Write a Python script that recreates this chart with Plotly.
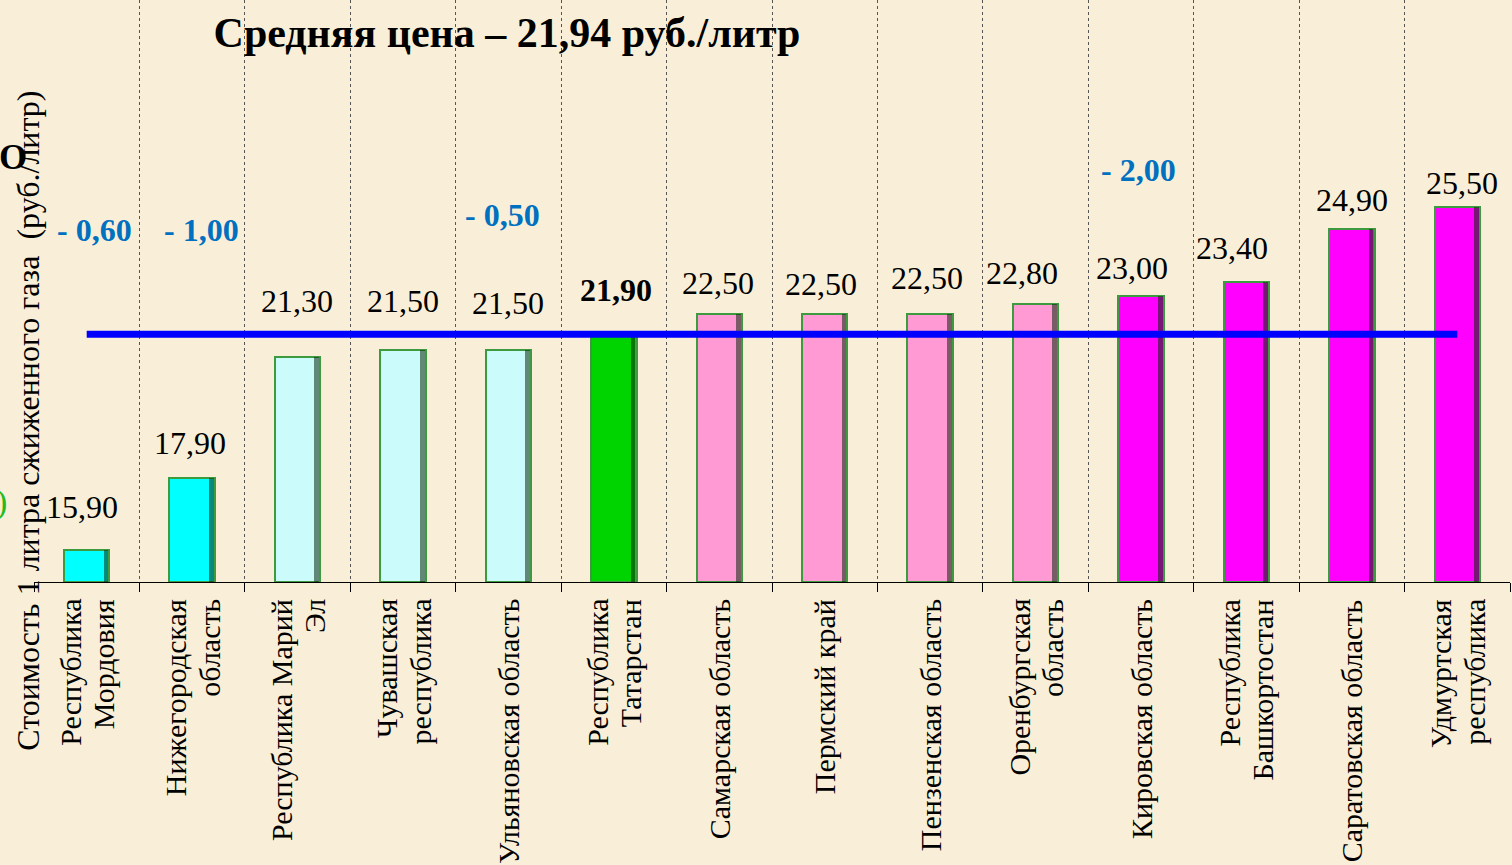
import plotly.graph_objects as go

# ---------------- data ----------------
regions = [
    "Республика<br>Мордовия",
    "Нижегородская<br>область",
    "Республика Марий<br>Эл",
    "Чувашская<br>республика",
    "Ульяновская область",
    "Республика<br>Татарстан",
    "Самарская область",
    "Пермский край",
    "Пензенская область",
    "Оренбургская<br>область",
    "Кировская область",
    "Республика<br>Башкортостан",
    "Саратовская область",
    "Удмуртская<br>республика",
]
prices = [15.90, 17.90, 21.30, 21.50, 21.50, 21.90, 22.50, 22.50, 22.50, 22.80, 23.00, 23.40, 24.90, 25.50]
price_labels = ["15,90", "17,90", "21,30", "21,50", "21,50", "21,90", "22,50", "22,50", "22,50",
                "22,80", "23,00", "23,40", "24,90", "25,50"]
average_price = 21.94
delta_regions = [0, 1, 4, 10]
delta_labels = ["- 0,60", "- 1,00", "- 0,50", "- 2,00"]

# ---------------- styles ----------------
bar_colors = ["#00FFFF", "#00FFFF", "#CCFBFB", "#CCFBFB", "#CCFBFB", "#00D400",
              "#FF9AD5", "#FF9AD5", "#FF9AD5", "#FF9AD5", "#FF00FF", "#FF00FF", "#FF00FF", "#FF00FF"]
label_dx = [-5, -2, -1, 0, 0, 2, -1, -4, -3, -14, -9, -14, 0, 5]
label_dy = [43, 35, 56, 49, 47, 46, 31, 30, 36, 31, 28, 34, 29, 24]
delta_dx = [8, 9, -6, -3]
delta_py = [0.605, 0.605, 0.631, 0.708]   # paper y of the blue labels
LINE_GAP = 33                               # px between lines of category labels

Y_MIN, Y_MAX = 15.0, 31.3
BAR_W = 0.43
SERIF = "Liberation Serif, Times New Roman, serif"

x_idx = list(range(len(regions)))
heights = [p - Y_MIN for p in prices]

fig = go.Figure()

# bars
fig.add_trace(go.Bar(
    x=x_idx, y=heights, base=Y_MIN, width=BAR_W,
    marker=dict(color=bar_colors, line=dict(color="#3E9A3E", width=2)),
    hoverinfo="skip", showlegend=False,
))
# dark shading strip on right side of each bar (bevel imitation)
fig.add_trace(go.Bar(
    x=x_idx, y=heights, base=Y_MIN, width=0.045, offset=BAR_W / 2 - 0.055,
    marker=dict(color="rgba(10,40,10,0.55)", line=dict(width=0)),
    hoverinfo="skip", showlegend=False,
))

# average line
fig.add_trace(go.Scatter(
    x=[x_idx[0], x_idx[-1]], y=[average_price, average_price], mode="lines",
    line=dict(color="#0000FF", width=7), hoverinfo="skip", showlegend=False,
))

annotations = []
# value labels
for i, (p, t) in enumerate(zip(prices, price_labels)):
    bold = (i == 5)
    annotations.append(dict(
        x=i, y=p, xref="x", yref="y", text=f"<b>{t}</b>" if bold else t,
        showarrow=False, xanchor="center", yanchor="middle",
        xshift=label_dx[i], yshift=label_dy[i],
        font=dict(family=SERIF, size=32, color="black"),
    ))
# blue change labels
for k, (i, t) in enumerate(zip(delta_regions, delta_labels)):
    annotations.append(dict(
        x=i, y=delta_py[k], xref="x", yref="paper", text=f"<b>{t}</b>",
        showarrow=False, xanchor="center", yanchor="middle", xshift=delta_dx[k],
        font=dict(family=SERIF, size=32, color="#0070C0"),
    ))
# category labels (rotated, each line centred)
for i, r in enumerate(regions):
    lines = r.split("<br>")
    n = len(lines)
    for k, ln in enumerate(lines):
        annotations.append(dict(
            x=i, y=0, xref="x", yref="paper", text=ln,
            showarrow=False, textangle=-90, xanchor="center", yanchor="top",
            xshift=(k - (n - 1) / 2) * LINE_GAP, yshift=-15,
            font=dict(family=SERIF, size=30, color="black"),
        ))
# y-axis title
annotations.append(dict(
    x=0, y=0.277, xref="paper", yref="paper",
    text="Стоимость 1 литра сжиженного газа\u00a0 (руб./литр)",
    showarrow=False, textangle=-90, xanchor="center", yanchor="middle", xshift=-6,
    font=dict(family=SERIF, size=32, color="black"),
))
# clipped fragments at the left edge
annotations.append(dict(
    x=0, y=0.73, xref="paper", yref="paper", text="<b>О</b>", showarrow=False,
    xanchor="center", yanchor="middle", xshift=-21,
    font=dict(family=SERIF, size=36, color="black"),
))
annotations.append(dict(
    x=0, y=0.137, xref="paper", yref="paper", text=")", showarrow=False,
    xanchor="center", yanchor="middle", xshift=-33,
    font=dict(family=SERIF, size=34, color="#22BB22"),
))

fig.update_layout(
    width=1512, height=865,
    margin=dict(l=34, r=2, t=0, b=283),
    paper_bgcolor="#F9EFD8", plot_bgcolor="#F9EFD8",
    bargap=0, barmode="overlay",
    title=dict(
        text="<b>Средняя цена – 21,94 руб./литр</b>",
        x=507 / 1512, xanchor="center", y=1 - 32 / 865, yanchor="middle",
        font=dict(family=SERIF, size=42, color="black"),
    ),
    annotations=annotations,
    xaxis=dict(
        range=[-0.5, len(regions) - 0.5], tickmode="array",
        tickvals=[i - 0.5 for i in range(len(regions) + 1)],
        showticklabels=False, ticks="outside", ticklen=9, tickcolor="black", tickwidth=1,
        showgrid=True, gridcolor="#555555", gridwidth=1, griddash="dot",
        showline=True, linecolor="black", linewidth=1, zeroline=False,
    ),
    yaxis=dict(
        range=[Y_MIN, Y_MAX], showticklabels=False, showgrid=False, zeroline=False,
        showline=False, ticks="",
    ),
)

fig.write_html(
    "out.html",
    config={"displayModeBar": False},
    post_script="document.body.style.margin='0';document.body.style.overflow='hidden';"
                "document.body.style.background='#F9EFD8';",
)
